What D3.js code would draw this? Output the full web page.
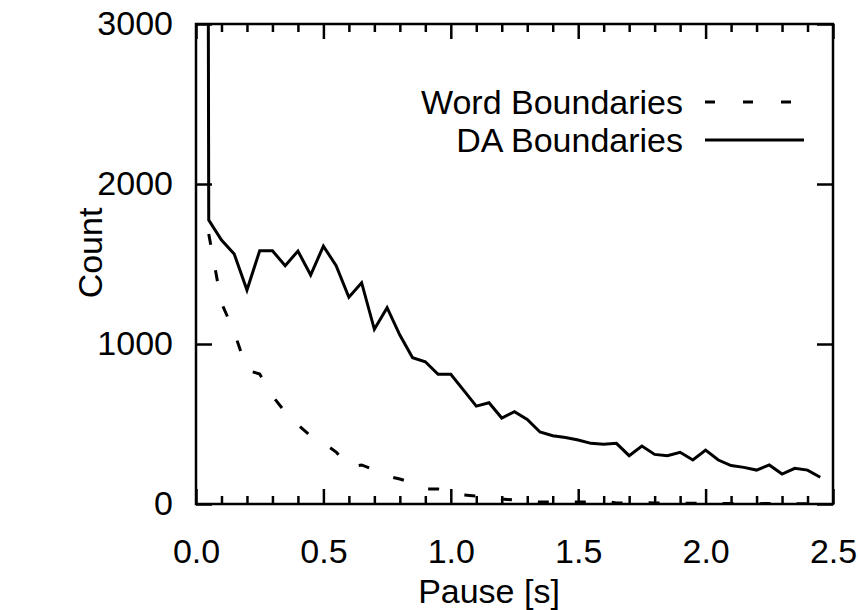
<!DOCTYPE html>
<html>
<head>
<meta charset="utf-8">
<script src="https://cdn.jsdelivr.net/npm/d3@7"></script>
<style>
  body { margin: 0; background: #fff; }
  text { font-family: "Liberation Sans", Arial, sans-serif; fill: #000; }
</style>
</head>
<body>
<div id="chart"></div>
<script>
// pause bins (s)
const pause = [0.00, 0.05, 0.10, 0.15, 0.20, 0.25, 0.30, 0.35, 0.40, 0.45,
               0.50, 0.55, 0.60, 0.65, 0.70, 0.75, 0.80, 0.85, 0.90, 0.95,
               1.00, 1.05, 1.10, 1.15, 1.20, 1.25, 1.30, 1.35, 1.40, 1.45,
               1.50, 1.55, 1.60, 1.65, 1.70, 1.75, 1.80, 1.85, 1.90, 1.95,
               2.00, 2.05, 2.10, 2.15, 2.20, 2.25, 2.30, 2.35, 2.40, 2.45];

// first bin runs far off the top of the plot
const daCounts = [40000, 1775, 1650, 1562, 1337, 1583, 1583, 1489, 1581, 1431,
                  1612, 1489, 1292, 1383, 1092, 1227, 1056, 914, 889, 811,
                  811, 712, 612, 633, 537, 577, 529, 450, 427, 415,
                  400, 379, 373, 379, 302, 362, 310, 302, 323, 275,
                  337, 275, 240, 229, 212, 244, 187, 223, 212, 167];

const wordCounts = [null, 1688, 1256, 1075, 838, 812, 675, 575, 494, 425,
                    381, 325, 231, 244, 212, 175, 156, 131, 94, 94,
                    81, 56, 50, 50, 31, 25, 19, 12, 12, 12,
                    12, 14, 20, 6, 8, 10, 6, 5, 4, 5,
                    3, 4, 3, 3, 2, 3, 2, 2, 2, 2];

const xMajor = [0, 0.5, 1.0, 1.5, 2.0, 2.5];
const yMajor = [0, 1000, 2000, 3000];
const seriesNames = ["Word Boundaries", "DA Boundaries"];

const W = 858, H = 610;
const box = { left: 196, right: 833, top: 24, bottom: 504 };

const svg = d3.select("#chart").append("svg")
  .attr("width", W)
  .attr("height", H);

const x = d3.scaleLinear().domain([0, 2.5]).range([box.left, box.right]);
const y = d3.scaleLinear().domain([0, 3000]).range([box.bottom, box.top]);

const minorX = d3.range(0, 26).map(i => i / 10).filter(v => !xMajor.some(m => Math.abs(m - v) < 1e-9));

// minor ticks, bottom and top (inward)
svg.append("g")
  .attr("transform", `translate(0,${box.bottom})`)
  .call(d3.axisBottom(x).tickValues(minorX).tickSize(-8).tickFormat(""));
svg.append("g")
  .attr("transform", `translate(0,${box.top})`)
  .call(d3.axisTop(x).tickValues(minorX).tickSize(-8).tickFormat(""));

// major ticks
svg.append("g")
  .attr("class", "x-axis")
  .attr("transform", `translate(0,${box.bottom})`)
  .call(d3.axisBottom(x).tickValues(xMajor).tickSize(-15).tickPadding(35).tickFormat(d3.format(".1f")));
svg.append("g")
  .attr("transform", `translate(0,${box.top})`)
  .call(d3.axisTop(x).tickValues(xMajor).tickSize(-15).tickFormat(""));
svg.append("g")
  .attr("class", "y-axis")
  .attr("transform", `translate(${box.left},0)`)
  .call(d3.axisLeft(y).tickValues(yMajor).tickSize(-16).tickPadding(23).tickFormat(d3.format("d")));
svg.append("g")
  .attr("transform", `translate(${box.right},0)`)
  .call(d3.axisRight(y).tickValues(yMajor).tickSize(-16).tickFormat(""));

svg.selectAll(".domain").remove();
svg.selectAll(".tick line").attr("stroke", "#000").attr("stroke-width", 2.5);
svg.selectAll(".tick text")
  .style("font-size", "34px")
  .style("font-family", "'Liberation Sans', Arial, sans-serif")
  .attr("fill", "#000");

// border
svg.append("rect")
  .attr("x", box.left).attr("y", box.top)
  .attr("width", box.right - box.left).attr("height", box.bottom - box.top)
  .attr("fill", "none")
  .attr("stroke", "#000")
  .attr("stroke-width", 2.5);

// axis titles
svg.append("text")
  .attr("x", 489)
  .attr("y", 603)
  .attr("text-anchor", "middle")
  .style("font-size", "34px")
  .text("Pause [s]");

svg.append("text")
  .attr("transform", "translate(102,253) rotate(-90)")
  .attr("text-anchor", "middle")
  .style("font-size", "34px")
  .text("Count");

// data lines, clipped to the plot area
svg.append("clipPath").attr("id", "plot-clip")
  .append("rect")
  .attr("x", box.left).attr("y", box.top)
  .attr("width", box.right - box.left).attr("height", box.bottom - box.top);

const line = d3.line()
  .defined(d => d[1] !== null)
  .x(d => x(d[0]))
  .y(d => y(d[1]));

const plot = svg.append("g").attr("clip-path", "url(#plot-clip)");

plot.append("path")
  .datum(pause.map((p, i) => [p, wordCounts[i]]))
  .attr("d", line)
  .attr("fill", "none")
  .attr("stroke", "#000")
  .attr("stroke-width", 3)
  .attr("stroke-dasharray", "11,26");

plot.append("path")
  .datum(pause.map((p, i) => [p, daCounts[i]]))
  .attr("d", line)
  .attr("fill", "none")
  .attr("stroke", "#000")
  .attr("stroke-width", 3)
  .attr("stroke-linejoin", "miter");

// legend
const legendY = [102, 140];
const legend = svg.append("g");
seriesNames.forEach((name, i) => {
  legend.append("text")
    .attr("x", 683)
    .attr("y", legendY[i] + 12)
    .attr("text-anchor", "end")
    .style("font-size", "34px")
    .text(name);
  legend.append("line")
    .attr("x1", 705).attr("x2", 804)
    .attr("y1", legendY[i]).attr("y2", legendY[i])
    .attr("stroke", "#000")
    .attr("stroke-width", 3)
    .attr("stroke-dasharray", i === 0 ? "10,28" : null);
});
</script>
</body>
</html>
